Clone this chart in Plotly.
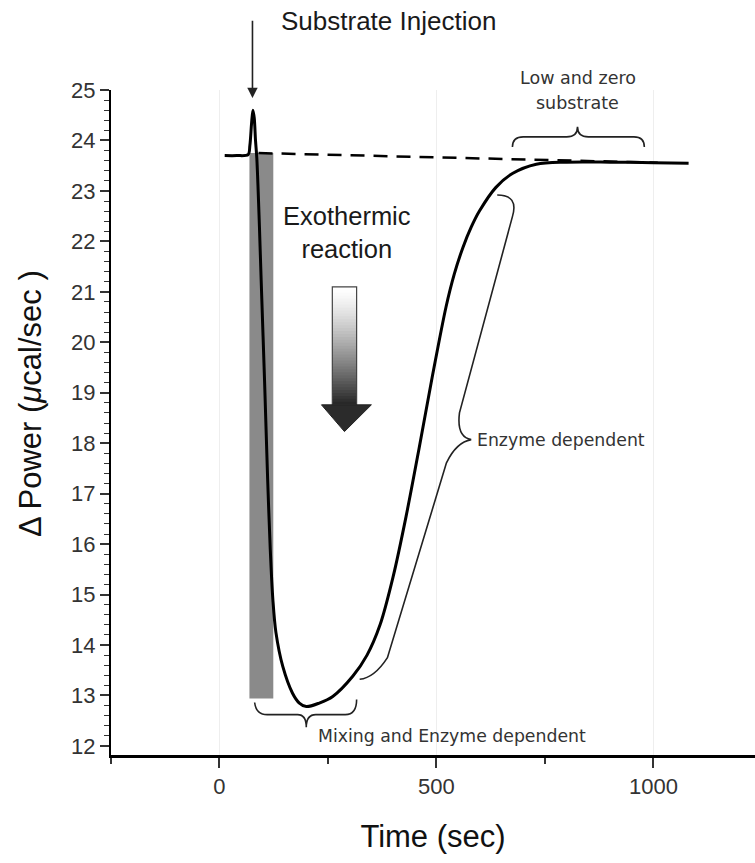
import plotly.graph_objects as go

# ---- data ----
time_s = [12, 40, 66, 70, 74, 77, 80, 83, 86, 92, 96, 104, 111, 117, 123, 130, 146, 168, 184, 200,
          230, 261, 307, 340, 370, 400, 430, 460, 490, 522, 541, 561, 580, 599, 637, 676, 730, 800,
          900, 1000, 1081]
power = [23.70, 23.70, 23.72, 23.90, 24.35, 24.60, 24.45, 24.00, 23.65, 22.30, 21.24, 19.20,
         17.28, 15.90, 14.90, 14.25, 13.57, 13.05, 12.85, 12.78, 12.85, 12.98, 13.38, 13.80,
         14.40, 15.35, 16.55, 17.90, 19.30, 20.70, 21.35, 21.88, 22.28, 22.60, 23.07, 23.35,
         23.53, 23.57, 23.57, 23.56, 23.55]

baseline_x = [90, 1010]
baseline_y = [23.75, 23.56]

mix_bar_x = [69, 124]
mix_bar_y = [12.94, 23.75]

x_tickvals = [0, 500, 1000]
x_ticktext = ["0", "500", "1000"]
y_tickvals = list(range(12, 26))

injection_time = 76

fig = go.Figure()

# grey mixing bar
fig.add_shape(type="rect", x0=mix_bar_x[0], x1=mix_bar_x[1], y0=mix_bar_y[0], y1=mix_bar_y[1],
              xref="x", yref="y", fillcolor="#8a8a8a", line=dict(width=0), layer="below")

# dashed baseline
fig.add_trace(go.Scatter(x=baseline_x, y=baseline_y, mode="lines",
                         line=dict(color="black", width=2.5, dash="14px,9px"),
                         hoverinfo="skip", showlegend=False))

# main thermogram
fig.add_trace(go.Scatter(x=time_s, y=power, mode="lines",
                         line=dict(color="black", width=3, shape="spline", smoothing=0.9),
                         showlegend=False))

# gradient arrow (exothermic)
ax0, ax1 = 260, 316
ay_top, ay_bot = 21.1, 18.76
n = 40
step = (ay_top - ay_bot) / n
for i in range(n):
    t = i / (n - 1)
    c = int(255 - (t ** 1.3) * (255 - 40))
    y1 = ay_top - step * i
    y0 = max(ay_bot, y1 - step * 1.6)
    fig.add_shape(type="rect", x0=ax0, x1=ax1, y0=y0, y1=y1, xref="x", yref="y",
                  fillcolor=f"rgb({c},{c},{c})", line=dict(width=0))
fig.add_shape(type="rect", x0=ax0, x1=ax1, y0=ay_bot, y1=ay_top, xref="x", yref="y",
              fillcolor="rgba(0,0,0,0)", line=dict(color="#444", width=1.2))
fig.add_shape(type="path", xref="x", yref="y",
              path=f"M 235,{ay_bot} L 350,{ay_bot} L 288,18.23 Z",
              fillcolor="#2b2b2b", line=dict(color="#222", width=1))

# curly braces
brace_col = "#222"
fig.add_shape(type="path", xref="x", yref="y", line=dict(color=brace_col, width=1.6),
              path="M 675,23.87 Q 675,24.07 700,24.07 L 800,24.07 Q 825,24.07 825,24.27 "
                   "Q 825,24.07 850,24.07 L 955,24.07 Q 979,24.07 979,23.87")
fig.add_shape(type="path", xref="x", yref="y", line=dict(color=brace_col, width=1.6),
              path="M 81,12.86 Q 84,12.62 110,12.62 L 180,12.62 Q 200,12.62 200,12.37 "
                   "Q 200,12.62 222,12.62 L 290,12.62 Q 316,12.62 316,12.92")
fig.add_shape(type="path", xref="x", yref="y", line=dict(color=brace_col, width=1.6),
              path="M 640,22.92 Q 690,22.92 675,22.49 L 553,18.60 Q 546,18.12 580,18.07 "
                   "Q 546,18.02 523,17.61 L 387,13.75 Q 357,13.35 323,13.32")

# injection arrow
fig.add_annotation(x=injection_time, y=24.84, ax=injection_time, ay=26.4, xref="x", yref="y",
                   axref="x", ayref="y", text="", showarrow=True, arrowhead=2, arrowsize=1.3,
                   arrowwidth=1.6, arrowcolor="#222")

txt_font = "Liberation Sans, Arial, sans-serif"
small_font = "DejaVu Sans, Verdana, sans-serif"
fig.add_annotation(x=0.261, y=1.1038, xref="paper", yref="paper", text="Substrate Injection",
                   showarrow=False, xanchor="left", yanchor="middle",
                   font=dict(size=26, color="#1a1a1a", family=txt_font))
fig.add_annotation(x=293, y=22.18, xref="x", yref="y", text="Exothermic<br>reaction", showarrow=False,
                   xanchor="center", yanchor="middle",
                   font=dict(size=25.5, color="#1a1a1a", family=txt_font))
fig.add_annotation(x=0.725, y=1.018, xref="paper", yref="paper", text="Low and zero", showarrow=False,
                   xanchor="center", yanchor="middle", font=dict(size=17.5, color="#333", family=small_font))
fig.add_annotation(x=0.725, y=0.9805, xref="paper", yref="paper", text="substrate", showarrow=False,
                   xanchor="center", yanchor="middle", font=dict(size=17.5, color="#333", family=small_font))
fig.add_annotation(x=588, y=18.07, xref="x", yref="y", text="Enzyme dependent", showarrow=False,
                   xanchor="left", yanchor="middle", font=dict(size=17.3, color="#333", family=small_font))
fig.add_annotation(x=223, y=12.19, xref="x", yref="y", text="Mixing and Enzyme dependent", showarrow=False,
                   xanchor="left", yanchor="middle", font=dict(size=17.3, color="#333", family=small_font))

# y-axis title
fig.add_annotation(x=-0.126, y=0.529, xref="paper", yref="paper", text="Δ Power (<i>μ</i>cal/sec )",
                   showarrow=False, textangle=-90, xanchor="center", yanchor="middle",
                   font=dict(size=31, color="#111", family=txt_font))

tick_font = dict(size=22, color="#333", family="Liberation Sans Narrow, Arial Narrow, Liberation Sans, sans-serif")

fig.update_xaxes(range=[-250, 1234], tickvals=x_tickvals, ticktext=x_ticktext,
                 ticks="outside", ticklen=10, tickwidth=1.5, tickcolor="#333",
                 showline=True, linecolor="black", linewidth=2.5,
                 showgrid=True, gridcolor="#eeeeee", gridwidth=1, zeroline=False,
                 minor=dict(tickvals=[-250, 250, 750], ticks="outside", ticklen=6, tickwidth=1.5,
                            tickcolor="#333", showgrid=False),
                 tickfont=tick_font,
                 title=dict(text="Time (sec)", standoff=28,
                            font=dict(size=31, color="#111", family=txt_font)))
fig.update_yaxes(range=[11.82, 25], tickvals=y_tickvals, ticks="outside", ticklen=9, tickwidth=1.5,
                 tickcolor="#333", showline=True, linecolor="black", linewidth=2,
                 showgrid=False, zeroline=False,
                 minor=dict(dtick=0.2, ticks="outside", ticklen=5, tickwidth=1.2, tickcolor="#333",
                            showgrid=False),
                 tickfont=tick_font)

fig.update_layout(width=755, height=863, margin=dict(l=111, r=0, t=90, b=108),
                  plot_bgcolor="white", paper_bgcolor="white", showlegend=False)

fig.write_html("out.html", config={"displayModeBar": False},
               post_script="document.body.style.margin='0';")
